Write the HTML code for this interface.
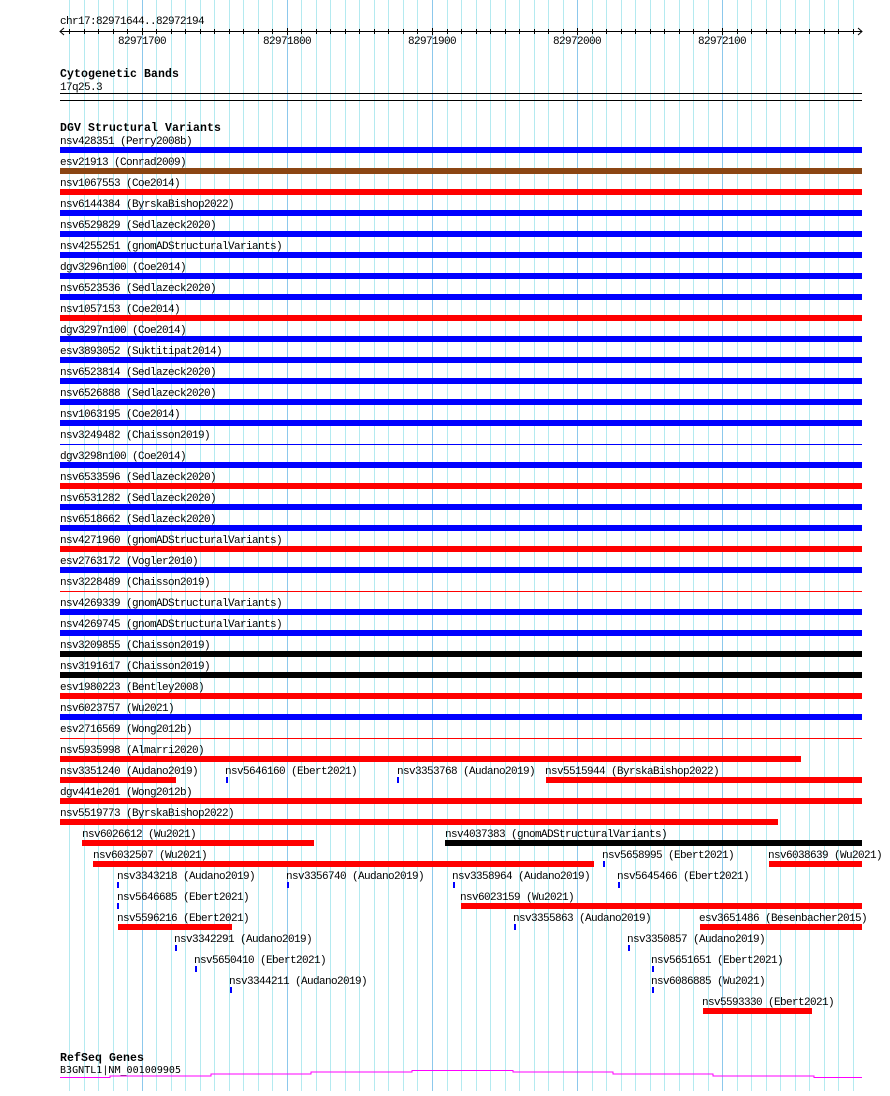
<!DOCTYPE html>
<html><head><meta charset="utf-8"><style>
body{margin:0;background:#fff}
svg text{font-family:"Liberation Mono","DejaVu Sans Mono",monospace;font-size:11px;letter-spacing:-0.6px;fill:#000}
svg text.b{font-weight:bold;font-size:11.5px;letter-spacing:0.1px}
</style></head><body>
<svg width="890" height="1091" viewBox="0 0 890 1091" xmlns="http://www.w3.org/2000/svg">
<g id="grid"></g>
<text x="60" y="24">chr17:82971644..82972194</text>
<line x1="60" y1="31.5" x2="862" y2="31.5" stroke="#000"/>
<path d="M64 28 L60 31.5 L64 35 M858 28 L862 31.5 L858 35" stroke="#000" fill="none"/>
<g id="ticks"></g>
<text x="142" y="44" text-anchor="middle">82971700</text>
<text x="287" y="44" text-anchor="middle">82971800</text>
<text x="432" y="44" text-anchor="middle">82971900</text>
<text x="577" y="44" text-anchor="middle">82972000</text>
<text x="722" y="44" text-anchor="middle">82972100</text>
<text class="b" x="60" y="77">Cytogenetic Bands</text>
<text x="60" y="90">17q25.3</text>
<line x1="60" y1="93.5" x2="862" y2="93.5" stroke="#000"/>
<line x1="60" y1="100.5" x2="862" y2="100.5" stroke="#000"/>
<text class="b" x="60" y="131">DGV Structural Variants</text>
<g id="rows"></g>
<text class="b" x="60" y="1061">RefSeq Genes</text>
<text x="60" y="1073" style="font-family:'DejaVu Sans Mono',monospace;font-size:10px;letter-spacing:0" textLength="121">B3GNTL1|NM_001009905</text>
<path d="M60 1077.5H110V1076H211V1074H311V1072H412V1070.5H513V1072H613V1074H713V1076H814V1077.5H862" stroke="#f0f" fill="none"/>
</svg>
<script>
const NS="http://www.w3.org/2000/svg";
function el(p,t,a){const e=document.createElementNS(NS,t);for(const k in a)e.setAttribute(k,a[k]);p.appendChild(e);return e;}
const g=document.getElementById('grid'),tk=document.getElementById('ticks');
for(let k=-5;k<=49;k++){const x=141.7+k*14.515;const maj=(k%10===0);
el(g,'rect',{x:Math.round(x),y:0,width:1,height:1091,fill:maj?'#8cc8ec':'#b4eaf0'});
el(tk,'line',{x1:Math.round(x)+.5,y1:maj?28:29,x2:Math.round(x)+.5,y2:maj?35:34,stroke:'#000'});}
const C={b:'#0000ff',r:'#ff0000',n:'#8b4513',k:'#000'};
const R=document.getElementById('rows');
function lab(i,x,s){const t=el(R,'text',{x:x,y:144+21*i});t.textContent=s;}
function bar(i,x1,x2,c){el(R,'rect',{x:x1,y:147+21*i,width:x2-x1,height:6,fill:C[c]});}
function thin(i,c){el(R,'rect',{x:60,y:150+21*i,width:802,height:1,fill:C[c]});}
function tick(i,x){el(R,'rect',{x:x,y:147+21*i,width:2,height:6,fill:C.b});}
const full=[["nsv428351 (Perry2008b)","b"],["esv21913 (Conrad2009)","n"],["nsv1067553 (Coe2014)","r"],["nsv6144384 (ByrskaBishop2022)","b"],["nsv6529829 (Sedlazeck2020)","b"],["nsv4255251 (gnomADStructuralVariants)","b"],["dgv3296n100 (Coe2014)","b"],["nsv6523536 (Sedlazeck2020)","b"],["nsv1057153 (Coe2014)","r"],["dgv3297n100 (Coe2014)","b"],["esv3893052 (Suktitipat2014)","b"],["nsv6523814 (Sedlazeck2020)","b"],["nsv6526888 (Sedlazeck2020)","b"],["nsv1063195 (Coe2014)","b"],["nsv3249482 (Chaisson2019)","tb"],["dgv3298n100 (Coe2014)","b"],["nsv6533596 (Sedlazeck2020)","r"],["nsv6531282 (Sedlazeck2020)","b"],["nsv6518662 (Sedlazeck2020)","b"],["nsv4271960 (gnomADStructuralVariants)","r"],["esv2763172 (Vogler2010)","b"],["nsv3228489 (Chaisson2019)","tr"],["nsv4269339 (gnomADStructuralVariants)","b"],["nsv4269745 (gnomADStructuralVariants)","b"],["nsv3209855 (Chaisson2019)","k"],["nsv3191617 (Chaisson2019)","k"],["esv1980223 (Bentley2008)","r"],["nsv6023757 (Wu2021)","b"],["esv2716569 (Wong2012b)","tr"]];
full.forEach((r,i)=>{lab(i,60,r[0]);if(r[1][0]==='t')thin(i,r[1][1]);else bar(i,60,862,r[1]);});
lab(29,60,"nsv5935998 (Almarri2020)");bar(29,60,801,'r');
lab(30,60,"nsv3351240 (Audano2019)");bar(30,60,176,'r');
lab(30,225,"nsv5646160 (Ebert2021)");tick(30,226);
lab(30,397,"nsv3353768 (Audano2019)");tick(30,397);
lab(30,545,"nsv5515944 (ByrskaBishop2022)");bar(30,546,862,'r');
lab(31,60,"dgv441e201 (Wong2012b)");bar(31,60,862,'r');
lab(32,60,"nsv5519773 (ByrskaBishop2022)");bar(32,60,778,'r');
lab(33,82,"nsv6026612 (Wu2021)");bar(33,82,314,'r');
lab(33,445,"nsv4037383 (gnomADStructuralVariants)");bar(33,445,862,'k');
lab(34,93,"nsv6032507 (Wu2021)");bar(34,93,594,'r');
lab(34,602,"nsv5658995 (Ebert2021)");tick(34,603);
lab(34,768,"nsv6038639 (Wu2021)");bar(34,769,862,'r');
lab(35,117,"nsv3343218 (Audano2019)");tick(35,117);
lab(35,286,"nsv3356740 (Audano2019)");tick(35,287);
lab(35,452,"nsv3358964 (Audano2019)");tick(35,453);
lab(35,617,"nsv5645466 (Ebert2021)");tick(35,618);
lab(36,117,"nsv5646685 (Ebert2021)");tick(36,117);
lab(36,460,"nsv6023159 (Wu2021)");bar(36,461,862,'r');
lab(37,117,"nsv5596216 (Ebert2021)");bar(37,118,232,'r');
lab(37,513,"nsv3355863 (Audano2019)");tick(37,514);
lab(37,699,"esv3651486 (Besenbacher2015)");bar(37,700,862,'r');
lab(38,174,"nsv3342291 (Audano2019)");tick(38,175);
lab(38,627,"nsv3350857 (Audano2019)");tick(38,628);
lab(39,194,"nsv5650410 (Ebert2021)");tick(39,195);
lab(39,651,"nsv5651651 (Ebert2021)");tick(39,652);
lab(40,229,"nsv3344211 (Audano2019)");tick(40,230);
lab(40,651,"nsv6086885 (Wu2021)");tick(40,652);
lab(41,702,"nsv5593330 (Ebert2021)");bar(41,703,812,'r');
</script>
</body></html>
